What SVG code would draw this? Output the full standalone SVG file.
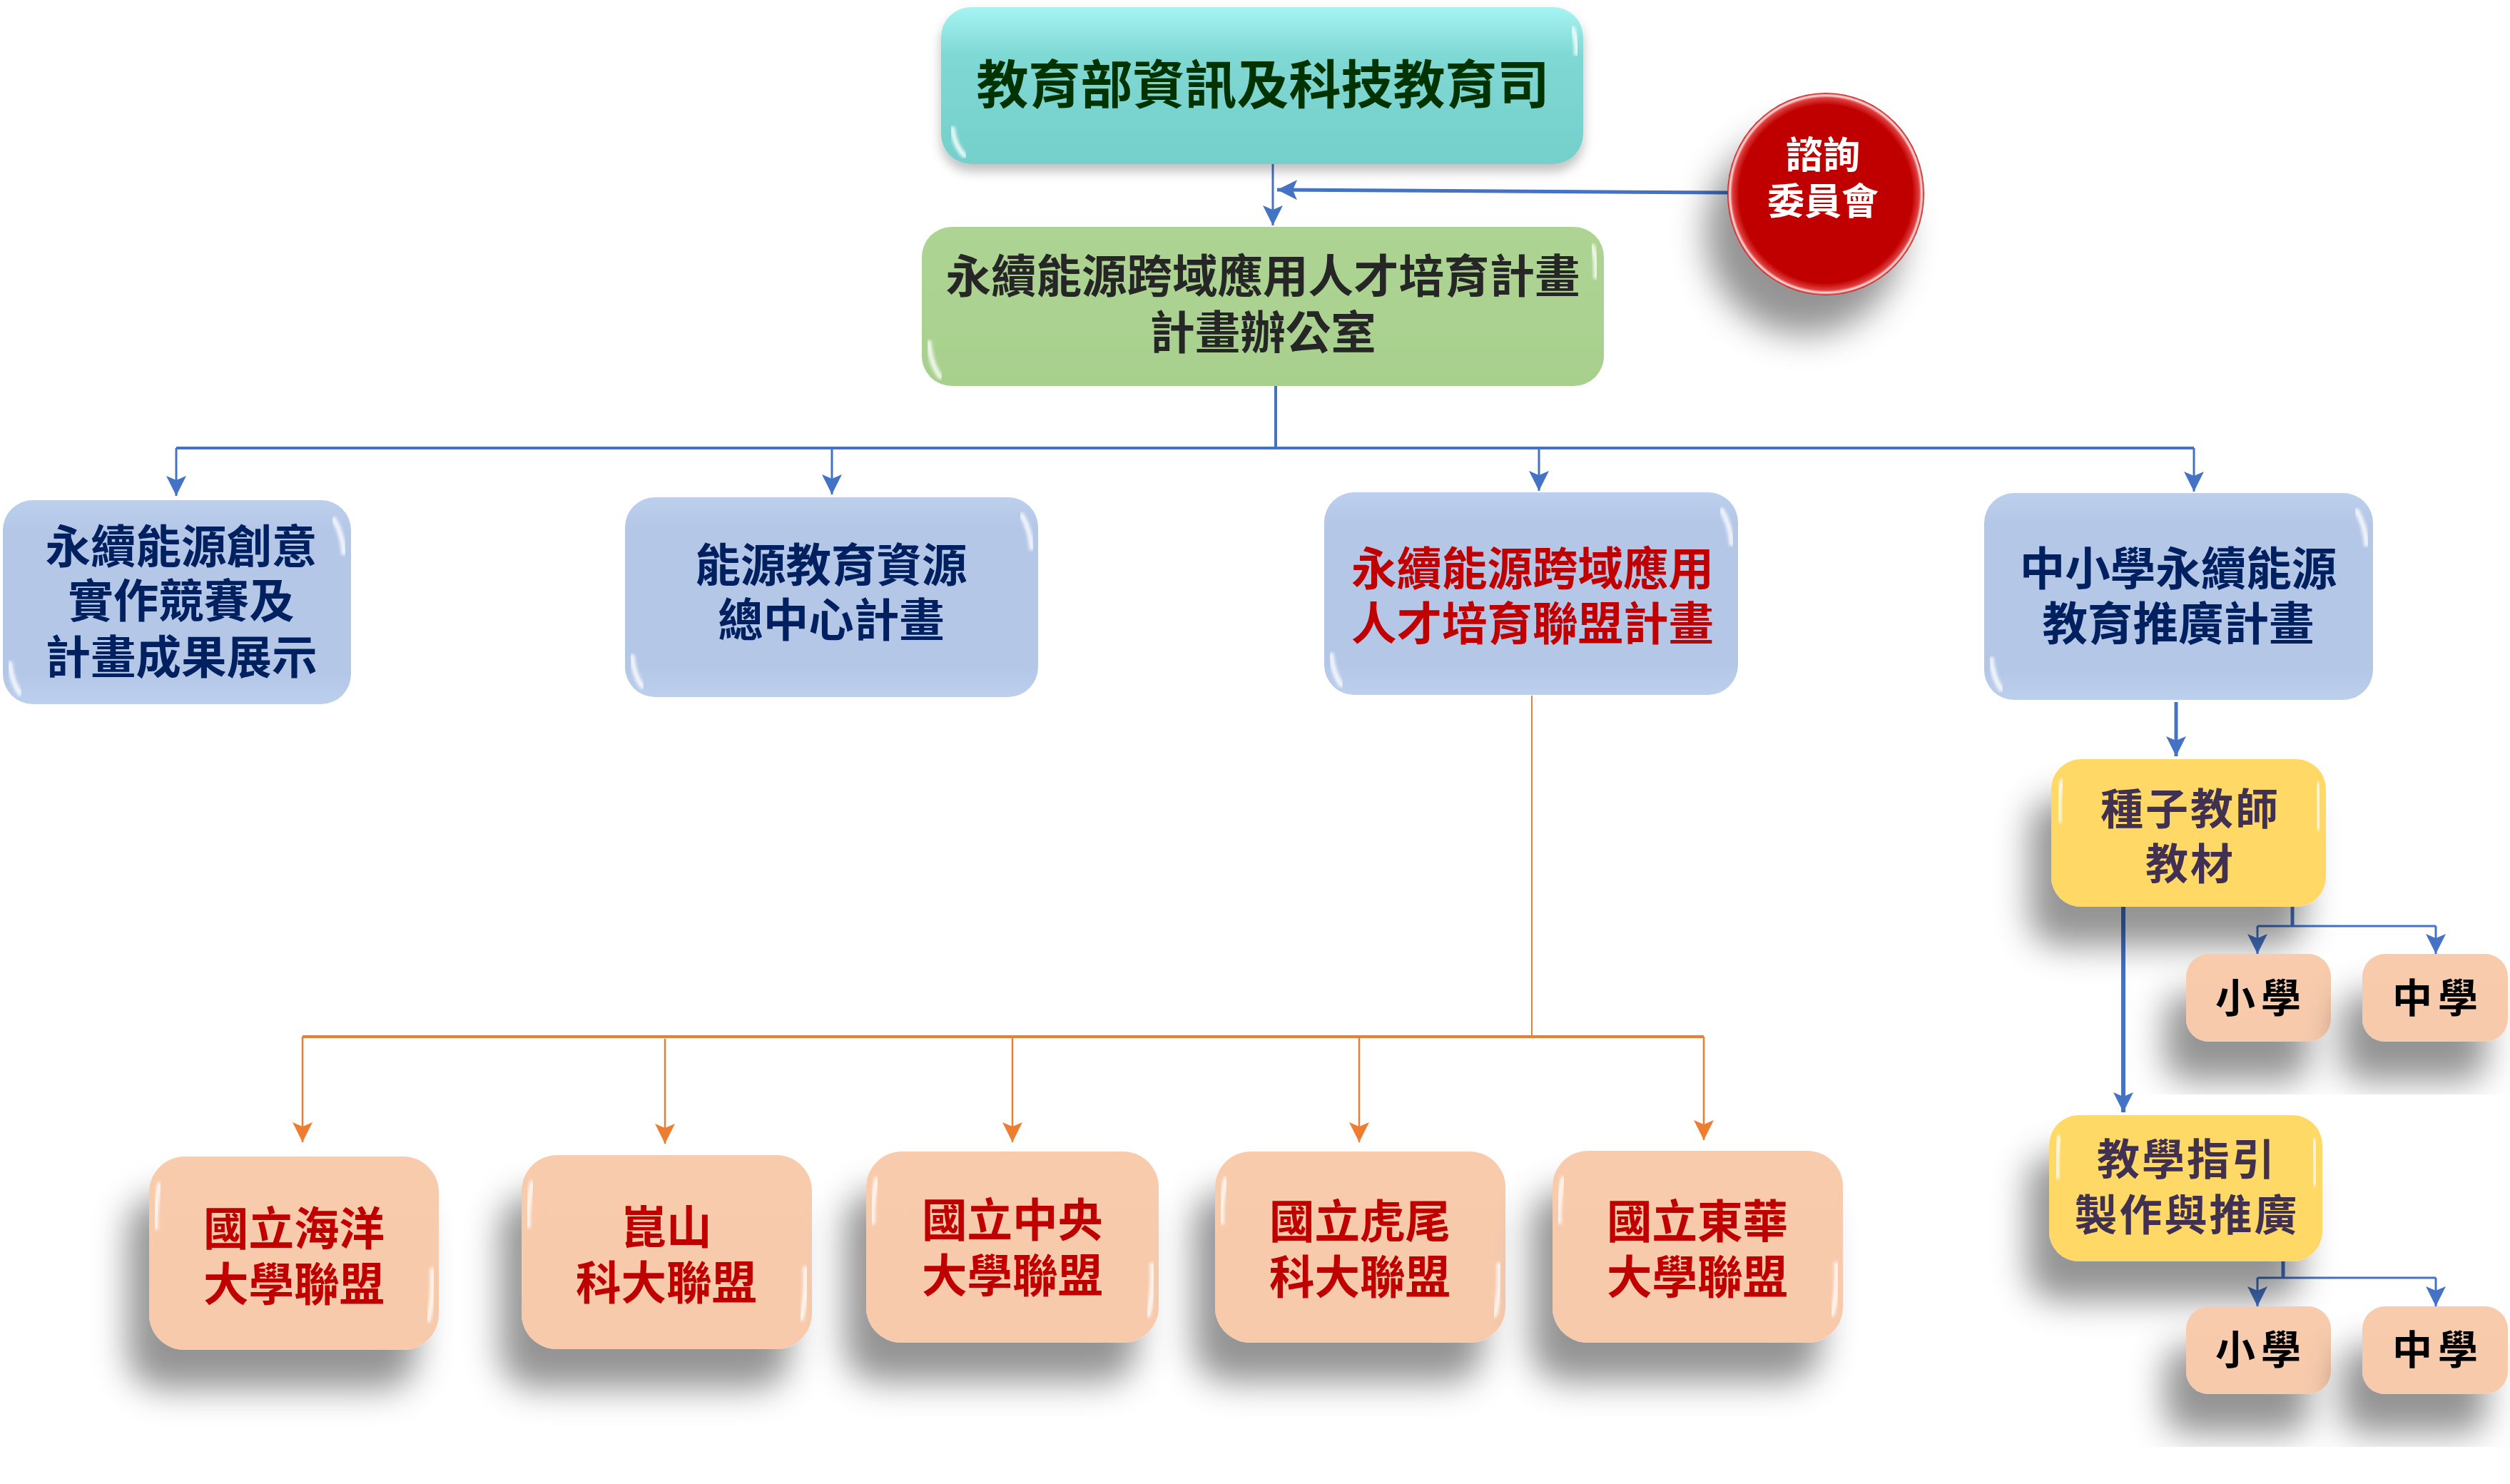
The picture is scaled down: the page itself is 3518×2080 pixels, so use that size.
<svg xmlns="http://www.w3.org/2000/svg" width="3518" height="2080" viewBox="0 0 3518 2080">
<defs>
<style>
text{font-family:"Liberation Sans","Noto Sans CJK TC","Noto Sans CJK SC",sans-serif;font-weight:700;text-anchor:middle;dominant-baseline:central}
.t62{font-size:63.5px}
.navy{fill:#002060}
.red{fill:#c00000}
.purple{fill:#403152;font-size:60px;letter-spacing:3px}
.blk{fill:#000;font-size:56px;letter-spacing:8px}
.blue{fill:url(#gBlue)}
.org{fill:url(#gOrg)}
.yel{fill:url(#gYel)}
.hl{fill:none;stroke:#fff;stroke-width:7;stroke-linecap:round;opacity:.85;filter:url(#soft)}
.cb{fill:none;stroke:#4472c4}
.co{fill:none;stroke:#ed7d31}
</style>
<linearGradient id="gTop" x1="0" y1="0" x2="0" y2="1">
<stop offset="0" stop-color="#a6f4f2"/><stop offset="0.3" stop-color="#80d8d4"/><stop offset="1" stop-color="#74cfcb"/>
</linearGradient>
<linearGradient id="gGreen" x1="0" y1="0" x2="0" y2="1">
<stop offset="0" stop-color="#aed494"/><stop offset="1" stop-color="#a8d08d"/>
</linearGradient>
<linearGradient id="gBlue" x1="0" y1="0" x2="0" y2="1">
<stop offset="0" stop-color="#bccfec"/><stop offset="0.15" stop-color="#b4c7e7"/><stop offset="0.85" stop-color="#b4c7e7"/><stop offset="1" stop-color="#bccfec"/>
</linearGradient>
<linearGradient id="gOrg" x1="0" y1="0" x2="0" y2="1">
<stop offset="0" stop-color="#f8cbad"/><stop offset="1" stop-color="#f7caac"/>
</linearGradient>
<linearGradient id="gYel" x1="0" y1="0" x2="0" y2="1">
<stop offset="0" stop-color="#ffd966"/><stop offset="1" stop-color="#ffd866"/>
</linearGradient>
<radialGradient id="gRed" cx="0.5" cy="0.5" r="0.5">
<stop offset="0.88" stop-color="#c00000"/><stop offset="0.95" stop-color="#e04040"/><stop offset="0.975" stop-color="#ffe0e0"/><stop offset="1" stop-color="#c00000"/>
</radialGradient>
<filter id="sh" x="-40%" y="-40%" width="180%" height="200%">
<feDropShadow dx="-30" dy="55" stdDeviation="24" flood-color="#000" flood-opacity="0.42"/>
</filter>
<filter id="shTop" x="-20%" y="-20%" width="140%" height="160%">
<feDropShadow dx="0" dy="10" stdDeviation="8" flood-color="#000" flood-opacity="0.25"/>
</filter>
<filter id="soft"><feGaussianBlur stdDeviation="2"/></filter>
<marker id="ab" markerUnits="userSpaceOnUse" markerWidth="30" markerHeight="28" refX="28" refY="14" orient="auto">
<path d="M0,0 L28,14 L0,28 L6,14 z" fill="#4472c4"/>
</marker>
<marker id="ao" markerUnits="userSpaceOnUse" markerWidth="30" markerHeight="28" refX="28" refY="14" orient="auto">
<path d="M0,0 L28,14 L0,28 L6,14 z" fill="#ed7d31"/>
</marker>
</defs>
<rect width="3518" height="2080" fill="#fff"/>

<g id="connectors">
<path class="cb" stroke-width="3" d="M1784,228 V316" marker-end="url(#ab)"/>
<path class="cb" stroke-width="5" d="M2422,270 L1790,266" marker-end="url(#ab)"/>
<path class="cb" stroke-width="4" d="M1788,541 V628 M247,628 H3075"/>
<path class="cb" stroke-width="3" d="M247,628 V695" marker-end="url(#ab)"/>
<path class="cb" stroke-width="3" d="M1166,628 V693" marker-end="url(#ab)"/>
<path class="cb" stroke-width="3" d="M2157,628 V688" marker-end="url(#ab)"/>
<path class="cb" stroke-width="3" d="M3075,628 V689" marker-end="url(#ab)"/>
<path class="cb" stroke-width="5" d="M3050,984 V1060" marker-end="url(#ab)"/>
<path class="cb" stroke-width="6" d="M2976,1270 V1559" marker-end="url(#ab)"/>
<path class="cb" stroke-width="5" d="M3213,1270 V1298"/>
<path class="cb" stroke-width="3" d="M3164,1298 H3414"/>
<path class="cb" stroke-width="3" d="M3164,1298 V1337" marker-end="url(#ab)"/>
<path class="cb" stroke-width="3" d="M3414,1298 V1337" marker-end="url(#ab)"/>
<path class="cb" stroke-width="5" d="M3200,1767 V1791"/>
<path class="cb" stroke-width="3" d="M3164,1791 H3414"/>
<path class="cb" stroke-width="3" d="M3164,1791 V1831" marker-end="url(#ab)"/>
<path class="cb" stroke-width="3" d="M3414,1791 V1831" marker-end="url(#ab)"/>
<path class="co" stroke-width="2" d="M2147,975 V1454"/>
<path class="co" stroke-width="4" d="M424,1453 H2388"/>
<path class="co" stroke-width="2.5" d="M424,1453 V1601" marker-end="url(#ao)"/>
<path class="co" stroke-width="2.5" d="M932,1456 V1603" marker-end="url(#ao)"/>
<path class="co" stroke-width="2.5" d="M1419,1453 V1601" marker-end="url(#ao)"/>
<path class="co" stroke-width="2.5" d="M1905,1453 V1601" marker-end="url(#ao)"/>
<path class="co" stroke-width="2.5" d="M2388,1453 V1598" marker-end="url(#ao)"/>
</g>

<g id="n-top">
<rect x="1319" y="10" width="900" height="220" rx="42" fill="url(#gTop)" filter="url(#shTop)"/>
<path class="hl" d="M1335,180 Q1338,205 1352,218"/>
<path class="hl" d="M2204,40 Q2210,55 2210,75" opacity=".5"/>
<text x="1770" y="119" style="font-size:73px;fill:#003300">教育部資訊及科技教育司</text>
</g>

<g id="n-office">
<rect x="1292" y="318" width="956" height="223" rx="42" fill="url(#gGreen)"/>
<path class="hl" d="M2232,345 Q2238,362 2237,388"/>
<path class="hl" d="M1302,480 Q1304,510 1318,528"/>
<text class="t62" x="1770" y="388" style="fill:#262626">永續能源跨域應用人才培育計畫</text>
<text class="t62" x="1770" y="467" style="fill:#262626">計畫辦公室</text>
</g>

<g id="n-committee">
<ellipse cx="2559" cy="272" rx="138" ry="142" fill="url(#gRed)" filter="url(#sh)"/>
<text x="2555" y="218" style="font-size:52px;fill:#fff">諮詢</text>
<text x="2555" y="283" style="font-size:52px;fill:#fff">委員會</text>
</g>

<g id="n-b1">
<rect class="blue" x="4" y="701" width="488" height="286" rx="42"/>
<path class="hl" d="M468,728 Q480,748 482,775"/>
<path class="hl" d="M14,930 Q16,955 28,972"/>
<text class="t62 navy" x="254" y="767">永續能源創意</text>
<text class="t62 navy" x="254" y="843">實作競賽及</text>
<text class="t62 navy" x="254" y="922">計畫成果展示</text>
</g>

<g id="n-b2">
<rect class="blue" x="876" y="697" width="579" height="280" rx="42"/>
<path class="hl" d="M1432,722 Q1444,742 1446,768"/>
<path class="hl" d="M886,920 Q888,945 900,962"/>
<text class="t62 navy" x="1165" y="793">能源教育資源</text>
<text class="t62 navy" x="1165" y="870">總中心計畫</text>
</g>

<g id="n-b3">
<rect class="blue" x="1856" y="690" width="580" height="284" rx="42"/>
<path class="hl" d="M2413,715 Q2425,735 2427,762"/>
<path class="hl" d="M1866,918 Q1868,943 1880,960"/>
<text class="t62 red" x="2148" y="798">永續能源跨域應用</text>
<text class="t62 red" x="2148" y="875">人才培育聯盟計畫</text>
</g>

<g id="n-b4">
<rect class="blue" x="2781" y="691" width="545" height="290" rx="42"/>
<path class="hl" d="M3303,716 Q3315,736 3317,763"/>
<path class="hl" d="M2791,924 Q2793,949 2805,966"/>
<text class="t62 navy" x="3053" y="798">中小學永續能源</text>
<text class="t62 navy" x="3053" y="875">教育推廣計畫</text>
</g>

<g id="n-y1">
<rect class="yel" x="2875" y="1064" width="385" height="207" rx="42" filter="url(#sh)"/>
<path class="hl" d="M2890,1095 Q2884,1120 2886,1150" opacity=".6"/>
<path class="hl" d="M3248,1100 Q3252,1130 3250,1160" opacity=".6"/>
<text class="purple" x="3070" y="1135">種子教師</text>
<text class="purple" x="3070" y="1212">教材</text>
</g>

<g id="n-y2">
<rect class="yel" x="2872" y="1563" width="383" height="205" rx="42" filter="url(#sh)"/>
<path class="hl" d="M2887,1594 Q2881,1619 2883,1649" opacity=".6"/>
<path class="hl" d="M3243,1599 Q3247,1629 3245,1659" opacity=".6"/>
<text class="purple" x="3065" y="1626">教學指引</text>
<text class="purple" x="3065" y="1704">製作與推廣</text>
</g>

<g id="n-s1">
<rect class="org" x="3064" y="1337" width="203" height="123" rx="32" filter="url(#sh)"/>
<path class="hl" d="M3074,1356 V1400" opacity=".7"/>
<path class="hl" d="M3258,1360 V1440" opacity=".6"/>
<text class="blk" x="3169" y="1399">小學</text>
</g>
<g id="n-s2">
<rect class="org" x="3311" y="1337" width="204" height="123" rx="32" filter="url(#sh)"/>
<path class="hl" d="M3321,1356 V1400" opacity=".7"/>
<path class="hl" d="M3506,1360 V1440" opacity=".6"/>
<text class="blk" x="3417" y="1399">中學</text>
</g>
<g id="n-s3">
<rect class="org" x="3064" y="1831" width="203" height="123" rx="32" filter="url(#sh)"/>
<path class="hl" d="M3074,1850 V1894" opacity=".7"/>
<path class="hl" d="M3258,1854 V1934" opacity=".6"/>
<text class="blk" x="3169" y="1892">小學</text>
</g>
<g id="n-s4">
<rect class="org" x="3311" y="1831" width="204" height="123" rx="32" filter="url(#sh)"/>
<path class="hl" d="M3321,1850 V1894" opacity=".7"/>
<path class="hl" d="M3506,1854 V1934" opacity=".6"/>
<text class="blk" x="3417" y="1892">中學</text>
</g>

<g id="n-o1">
<rect class="org" x="209" y="1621" width="406" height="271" rx="50" filter="url(#sh)"/>
<path class="hl" d="M224,1660 Q217,1690 218,1720" opacity=".7"/>
<path class="hl" d="M606,1780 Q608,1820 600,1850" opacity=".7"/>
<text class="t62 red" x="412" y="1723">國立海洋</text>
<text class="t62 red" x="412" y="1801">大學聯盟</text>
</g>
<g id="n-o2">
<rect class="org" x="731" y="1619" width="407" height="272" rx="50" filter="url(#sh)"/>
<path class="hl" d="M746,1658 Q739,1688 740,1718" opacity=".7"/>
<path class="hl" d="M1129,1778 Q1131,1818 1123,1848" opacity=".7"/>
<text class="t62 red" x="934" y="1721">崑山</text>
<text class="t62 red" x="934" y="1799">科大聯盟</text>
</g>
<g id="n-o3">
<rect class="org" x="1214" y="1614" width="410" height="268" rx="50" filter="url(#sh)"/>
<path class="hl" d="M1229,1653 Q1222,1683 1223,1713" opacity=".7"/>
<path class="hl" d="M1615,1773 Q1617,1813 1609,1843" opacity=".7"/>
<text class="t62 red" x="1419" y="1711">國立中央</text>
<text class="t62 red" x="1419" y="1789">大學聯盟</text>
</g>
<g id="n-o4">
<rect class="org" x="1703" y="1614" width="407" height="268" rx="50" filter="url(#sh)"/>
<path class="hl" d="M1718,1653 Q1711,1683 1712,1713" opacity=".7"/>
<path class="hl" d="M2101,1773 Q2103,1813 2095,1843" opacity=".7"/>
<text class="t62 red" x="1906" y="1713">國立虎尾</text>
<text class="t62 red" x="1906" y="1791">科大聯盟</text>
</g>
<g id="n-o5">
<rect class="org" x="2176" y="1613" width="407" height="269" rx="50" filter="url(#sh)"/>
<path class="hl" d="M2191,1652 Q2184,1682 2185,1712" opacity=".7"/>
<path class="hl" d="M2574,1772 Q2576,1812 2568,1842" opacity=".7"/>
<text class="t62 red" x="2379" y="1713">國立東華</text>
<text class="t62 red" x="2379" y="1791">大學聯盟</text>
</g>
</svg>
